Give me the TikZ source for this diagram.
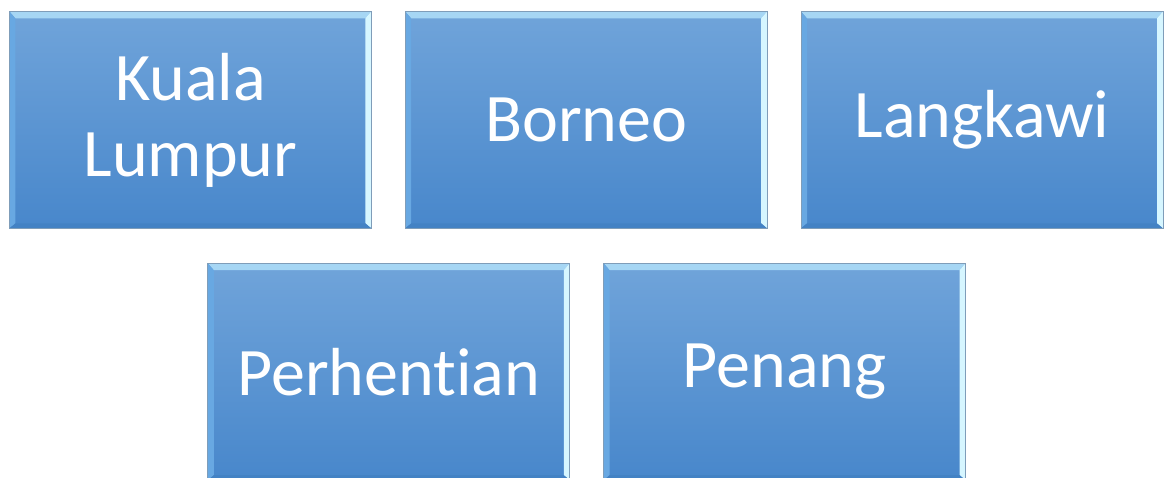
\documentclass[tikz,border=0pt]{standalone}
\usepackage{fontspec}
\usepackage{tikz}
\usetikzlibrary{positioning,shapes}
\newfontfamily\placefont[Ligatures=NoCommon]{Carlito}
\definecolor{boxtop}{HTML}{70A4DA}
\definecolor{boxbot}{HTML}{4887CB}
\definecolor{boxedge}{HTML}{7F9DB9}
\definecolor{bevtop}{HTML}{A6D6F4}
\definecolor{bevleft}{HTML}{68A8E2}
\definecolor{bevright}{HTML}{D6F6FF}
\definecolor{bevbot}{HTML}{4382C4}

\begin{document}
\begin{tikzpicture}[node distance=33pt]
\tikzstyle{place}=[rectangle,minimum width=362pt,minimum height=217pt,
  inner sep=0pt,draw=boxedge,line width=0.8pt,top color=boxtop,bottom color=boxbot,
  text=white,align=center,font=\placefont\fontsize{68}{76}\selectfont,
  path picture={
    \fill[bevtop] (path picture bounding box.north west) -- (path picture bounding box.north east)
      -- ([shift={(-6pt,-7pt)}]path picture bounding box.north east)
      -- ([shift={(6pt,-7pt)}]path picture bounding box.north west) -- cycle;
    \fill[bevleft] (path picture bounding box.north west) -- ([shift={(6pt,-7pt)}]path picture bounding box.north west)
      -- ([shift={(6pt,5pt)}]path picture bounding box.south west) -- (path picture bounding box.south west) -- cycle;
    \fill[bevright] (path picture bounding box.north east) -- ([shift={(-6pt,-7pt)}]path picture bounding box.north east)
      -- ([shift={(-6pt,5pt)}]path picture bounding box.south east) -- (path picture bounding box.south east) -- cycle;
    \fill[bevbot] (path picture bounding box.south west) -- ([shift={(6pt,5pt)}]path picture bounding box.south west)
      -- ([shift={(-6pt,5pt)}]path picture bounding box.south east) -- (path picture bounding box.south east) -- cycle;
  }]
\node[place] (kl)                                           {Kuala\\Lumpur};
\node[place] (bo) [right=of kl]                             {Borneo};
\node[place] (la) [right=of bo]                             {Langkawi};
\node[place] (pe) [below=34pt of kl.south east,xshift=17pt] {Perhentian};
\node[place] (pn) [right=of pe]                             {Penang};
\pgfresetboundingbox
\useasboundingbox ([xshift=-9pt,yshift=11pt]kl.north west) rectangle ++(1166pt,-477pt);
\end{tikzpicture}
\end{document}
